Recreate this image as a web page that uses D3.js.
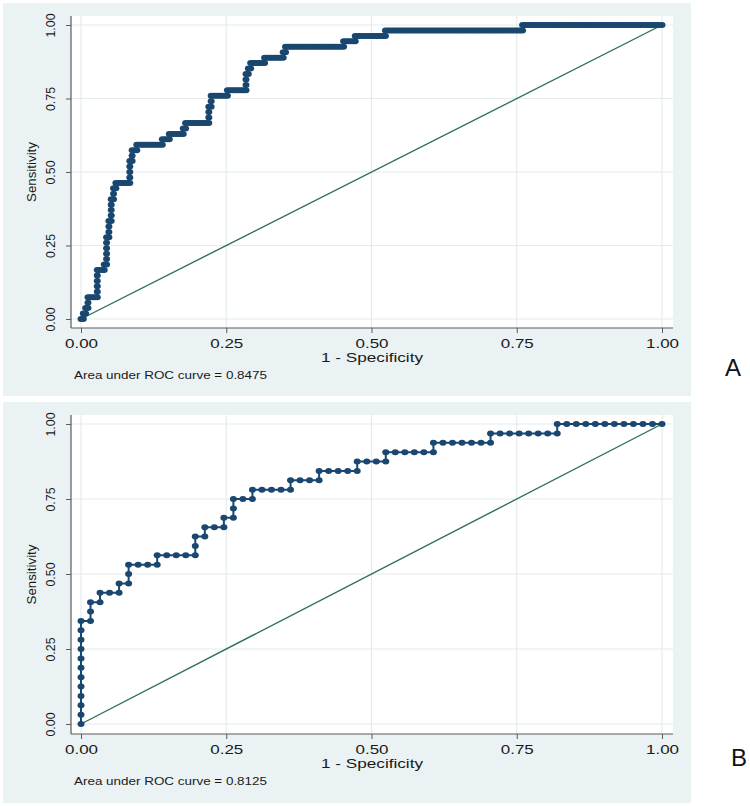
<!DOCTYPE html>
<html><head><meta charset="utf-8">
<script src="https://cdn.jsdelivr.net/npm/d3@7/dist/d3.min.js"></script>
<style>body{margin:0;background:#fff}svg{display:block}</style>
</head><body>
<svg id="chart" width="750" height="806"></svg>
<script>
// ---- data ----
const tickValues = [0, 0.25, 0.5, 0.75, 1];
const tickLabels = ["0.00", "0.25", "0.50", "0.75", "1.00"];
const panelNames = ["A", "B"];
const aucValues = ["0.8475", "0.8125"];
const nPositive = [54, 32];
const nNegative = [250, 61];
// number of false-positive steps taken at each true-positive level (0..nPositive)
const fpRunsA = [1,1,1,0,4,0,0,0,0,3,1,0,0,0,0,1,0,0,1,0,0,0,1,0,1,6,0,0,0,1,0,2,11,3,6,1,10,0,0,1,0,7,8,0,0,1,1,6,8,1,25,5,13,59,60];
const fpRunsB = [0,0,0,0,0,0,0,0,0,0,0,1,0,1,2,1,0,3,4,0,1,2,1,0,2,4,3,4,3,5,6,7,11];
const xTitle = "1 - Specificity";
const yTitle = "Sensitivity";
const aucPrefix = "Area under ROC curve = ";

// ---- layout / style ----
const layouts = [
  {bg: [3, 3, 688, 393], left: 71, right: 673, top: 16, bottom: 328, y0: 319, y1: 25, label: [725, 367]},
  {bg: [3, 402, 688, 401], left: 71, right: 673, top: 415, bottom: 734, y0: 724, y1: 424, label: [731, 757]}
];
const C = {bg: "#eaf2f3", grid: "#e4ecef", navy: "#1a476f", ref: "#2f7058", axis: "#5a5a5a", text: "#1a1a1a"};
const FONT = "'Liberation Sans', Arial, sans-serif";

const svg = d3.select("#chart");
function stretch(sel, w) { sel.attr("textLength", w).attr("lengthAdjust", "spacingAndGlyphs"); }

function rocPoints(runs, nPos, nNeg) {
  const pts = [[0, 0]];
  let fp = 0;
  runs.forEach((r, j) => {
    for (let k = 0; k < r; k++) { fp++; pts.push([fp / nNeg, j / nPos]); }
    if (j < runs.length - 1) pts.push([fp / nNeg, (j + 1) / nPos]);
  });
  return pts;
}

const runsAll = [fpRunsA, fpRunsB];

layouts.forEach((L, p) => {
  const g = svg.append("g");
  g.append("rect").attr("x", L.bg[0]).attr("y", L.bg[1]).attr("width", L.bg[2]).attr("height", L.bg[3]).attr("fill", C.bg);
  g.append("rect").attr("x", L.left).attr("y", L.top).attr("width", L.right - L.left).attr("height", L.bottom - L.top).attr("fill", "#fff");

  const x = d3.scaleLinear().domain([0, 1]).range([81, 662]);
  const y = d3.scaleLinear().domain([0, 1]).range([L.y0, L.y1]);

  // grid
  g.append("g").selectAll("line.h").data(tickValues).join("line")
    .attr("x1", L.left).attr("x2", L.right).attr("y1", d => y(d)).attr("y2", d => y(d))
    .attr("stroke", C.grid).attr("stroke-width", 1.2);
  g.append("g").selectAll("line.v").data(tickValues).join("line")
    .attr("y1", L.top).attr("y2", L.bottom).attr("x1", d => x(d)).attr("x2", d => x(d))
    .attr("stroke", C.grid).attr("stroke-width", 1.2);

  // reference line
  g.append("line").attr("x1", x(0)).attr("y1", y(0)).attr("x2", x(1)).attr("y2", y(1))
    .attr("stroke", C.ref).attr("stroke-width", 1.4);

  // ROC curve
  const pts = rocPoints(runsAll[p], nPositive[p], nNegative[p]);
  g.append("path").datum(pts)
    .attr("d", d3.line().x(d => x(d[0])).y(d => y(d[1])))
    .attr("fill", "none").attr("stroke", C.navy).attr("stroke-width", 2);
  g.append("g").selectAll("ellipse").data(pts).join("ellipse")
    .attr("cx", d => x(d[0])).attr("cy", d => y(d[1])).attr("rx", 3.5).attr("ry", 3.0)
    .attr("fill", C.navy);

  // axes
  const xa = g.append("g").attr("transform", `translate(0,${L.bottom})`)
    .call(d3.axisBottom(x).tickValues(tickValues).tickFormat((d, i) => tickLabels[i]).tickSize(5).tickSizeOuter(0));
  xa.select(".domain").remove();
  xa.selectAll(".tick line").attr("stroke", C.axis);
  xa.selectAll(".tick text").attr("y", 15.5).attr("dy", null).attr("dominant-baseline", "central")
    .attr("font-size", 13.5).attr("font-family", FONT).attr("fill", C.text).call(stretch, 33);
  g.append("line").attr("x1", L.left).attr("x2", L.right).attr("y1", L.bottom).attr("y2", L.bottom)
    .attr("stroke", C.axis).attr("stroke-width", 1.2);

  const ya = g.append("g").attr("transform", `translate(${L.left},0)`)
    .call(d3.axisLeft(y).tickValues(tickValues).tickFormat((d, i) => tickLabels[i]).tickSize(5).tickSizeOuter(0));
  ya.select(".domain").remove();
  ya.selectAll(".tick line").attr("stroke", C.axis);
  ya.selectAll(".tick text").attr("x", 0).attr("y", -20.5).attr("dy", null)
    .attr("transform", "rotate(-90)").attr("text-anchor", "middle").attr("dominant-baseline", "central")
    .attr("font-size", 13.5).attr("font-family", FONT).attr("fill", C.text).call(stretch, 24);
  g.append("line").attr("x1", L.left).attr("x2", L.left).attr("y1", L.top).attr("y2", L.bottom)
    .attr("stroke", C.axis).attr("stroke-width", 1.2);

  // titles
  g.append("text").attr("x", (L.left + L.right) / 2).attr("y", L.bottom + 29)
    .attr("text-anchor", "middle").attr("dominant-baseline", "central")
    .attr("font-size", 13.5).attr("font-family", FONT).attr("fill", C.text).text(xTitle).call(stretch, 102);
  g.append("text").attr("transform", `translate(${L.left - 39.5},${(L.top + L.bottom) / 2}) rotate(-90)`)
    .attr("text-anchor", "middle").attr("dominant-baseline", "central")
    .attr("font-size", 13).attr("font-family", FONT).attr("fill", C.text).text(yTitle).call(stretch, 60);
  g.append("text").attr("x", 74).attr("y", L.bottom + 47).attr("dominant-baseline", "central")
    .attr("font-size", 11).attr("font-family", FONT).attr("fill", C.text).text(aucPrefix + aucValues[p]).call(stretch, 193);

  // panel label
  g.append("text").attr("x", L.label[0]).attr("y", L.label[1]).attr("dominant-baseline", "central")
    .attr("font-size", 24).attr("font-family", FONT).attr("fill", "#111").text(panelNames[p]);
});
</script>
</body></html>
